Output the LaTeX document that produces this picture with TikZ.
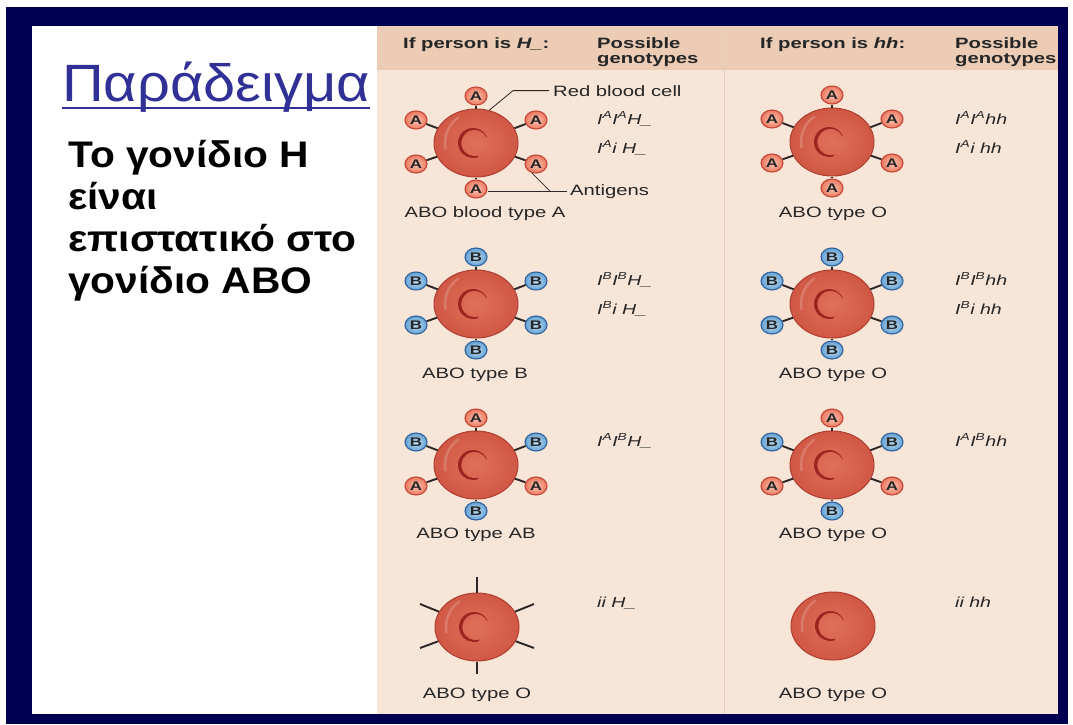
\documentclass[tikz,border=0pt]{standalone}
\usepackage{fontspec}
\setmainfont{Liberation Sans}
\newfontfamily\slidefont{Liberation Sans}[FakeStretch=1.1]
\newfontfamily\figfont{Liberation Sans}[FakeStretch=1.35]
\usetikzlibrary{shapes.geometric,calc}

\definecolor{navy}{RGB}{0,0,82}
\definecolor{peachhead}{RGB}{236,204,180}
\definecolor{peachbody}{RGB}{247,229,216}
\definecolor{divider}{RGB}{232,208,192}
\definecolor{titleblue}{RGB}{48,48,150}
\definecolor{cellin}{RGB}{224,112,90}
\definecolor{cellout}{RGB}{208,88,68}
\definecolor{celledge}{RGB}{176,62,48}
\definecolor{cmarkcol}{RGB}{158,36,32}
\definecolor{agAin}{RGB}{252,198,178}
\definecolor{agAout}{RGB}{236,120,96}
\definecolor{agAedge}{RGB}{196,70,52}
\definecolor{agBin}{RGB}{192,224,244}
\definecolor{agBout}{RGB}{100,160,210}
\definecolor{agBedge}{RGB}{48,98,158}
\definecolor{spokecol}{RGB}{45,38,38}
\definecolor{figtext}{RGB}{38,38,38}

% red blood cell with its sheen and dark central mark
\newcommand{\rbcbody}[2]{%
  \node[rbc] (#1) at (#2) {};
  \draw[sheen] ($(#1.center)+(125:31pt)$) arc[start angle=125,end angle=190,radius=31pt];
  \fill[cmarkcol] ($(#1.center)+(-3pt,0pt)$) ++(25:15pt)
    arc[start angle=25,end angle=288,radius=15pt]
    -- ($(#1.center)+(-1.5pt,0pt)+(288:13.2pt)$)
    arc[start angle=288,end angle=25,radius=13.2pt] -- cycle;}
% one surface antigen joined to its cell
\newcommand{\antigen}[4]{%
  \node[ag#4] (#2) at ($(#1.center)+(#3)$) {#4};
  \draw[spoke] (#1) -- (#2);}
% cell with six antigens: name, centre, top, upper-left, upper-right, lower-left, lower-right, bottom
\newcommand{\fullcell}[8]{%
  \rbcbody{#1}{#2}
  \antigen{#1}{#1t}{0,-47}{#3}
  \antigen{#1}{#1ul}{-60,-23}{#4}
  \antigen{#1}{#1ur}{60,-23}{#5}
  \antigen{#1}{#1ll}{-60,21}{#6}
  \antigen{#1}{#1lr}{60,21}{#7}
  \antigen{#1}{#1b}{0,46}{#8}}

\begin{document}
\begin{tikzpicture}[x=1pt,y=-1pt,
  rbc/.style={ellipse, minimum width=84pt, minimum height=68pt, inner sep=0pt,
    inner color=cellin, outer color=cellout, draw=celledge, line width=1pt},
  sheen/.style={draw=white, draw opacity=0.18, line width=2.5pt, line cap=round},
  antigen/.style={ellipse, minimum width=22pt, minimum height=18pt, inner sep=0pt, line width=1.1pt,
    text=figtext, font=\figfont\bfseries\fontsize{12.5}{12}\selectfont},
  agA/.style={antigen, inner color=agAin, outer color=agAout, draw=agAedge},
  agB/.style={antigen, inner color=agBin, outer color=agBout, draw=agBedge},
  spoke/.style={draw=spokecol, line width=1.9pt},
  callout/.style={draw=spokecol, line width=0.8pt},
  hdr/.style={inner sep=0pt, text=figtext, font=\figfont\bfseries\fontsize{15}{15}\selectfont},
  lbl/.style={inner sep=0pt, text=figtext, font=\figfont\fontsize{15}{15}\selectfont},
  geno/.style={inner sep=0pt, text=figtext, font=\figfont\itshape\fontsize{14.5}{15}\selectfont},
  slide/.style={inner sep=0pt, font=\slidefont\bfseries\fontsize{37}{42}\selectfont}]

\useasboundingbox (0,0) rectangle (1073,724);
\fill[white] (0,0) rectangle (1073,724);
% slide frame
\fill[navy] (6,7) rectangle (1068,724);
\fill[white] (32,26) rectangle (1058,714);
% table background
\fill[peachbody] (377,26) rectangle (1058,714);
\fill[peachhead] (377,26) rectangle (1058,70);
\draw[divider, line width=1pt] (724,26) -- (724,714);

% slide text
\node[inner sep=0pt, anchor=base west, text=titleblue,
  font=\slidefont\fontsize{52.5}{52}\selectfont] (title) at (62,101) {Παράδειγμα};
\draw[titleblue, line width=2pt] ($(title.base west)+(0,7)$) -- ($(title.base east)+(0,7)$);
\node[slide, anchor=base west] (l1) at (68,167) {Το γονίδιο Η};
\node[slide, anchor=base west] (l2) at (68,209) {είναι};
\node[slide, anchor=base west] (l3) at (68,251) {επιστατικό στο};
\node[slide, anchor=base west] (l4) at (68,293) {γονίδιο ΑΒΟ};

% column headers
\node[hdr, anchor=base west] (h1) at (403,48) {If person is \textit{H\_}:};
\node[hdr, anchor=base west] (h2) at (597,48) {Possible};
\node[hdr, anchor=base west] (h2b) at (597,63) {genotypes};
\node[hdr, anchor=base west] (h3) at (760,48) {If person is \textit{hh}:};
\node[hdr, anchor=base west] (h4) at (955,48) {Possible};
\node[hdr, anchor=base west] (h4b) at (955,63) {genotypes};

% row 1
\fullcell{r1a}{476,143}{A}{A}{A}{A}{A}{A}
\fullcell{r1b}{832,142}{A}{A}{A}{A}{A}{A}
% row 2
\fullcell{r2a}{476,304}{B}{B}{B}{B}{B}{B}
\fullcell{r2b}{832,304}{B}{B}{B}{B}{B}{B}
% row 3
\fullcell{r3a}{476,465}{A}{B}{B}{A}{A}{B}
\fullcell{r3b}{832,465}{A}{B}{B}{A}{A}{B}
% row 4: bare stalks, then a bare cell
\rbcbody{r4a}{477,627}
\foreach \n/\off in {t/{0,-50}, ul/{-57,-23}, ur/{57,-23}, ll/{-57,21}, lr/{57,21}, b/{0,47}}{
  \coordinate (r4a\n) at ($(r4a.center)+(\off)$);
  \draw[spoke] (r4a) -- (r4a\n);
}
\rbcbody{r4b}{833,626}

% callouts
\node[lbl, anchor=base west] (rbclabel) at (553,96) {Red blood cell};
\draw[callout] ($(rbclabel.west)+(-4,0)$) -- ++(-36,0) -- (r1a.68);
\node[lbl, anchor=base west] (antlabel) at (570,195) {Antigens};
\coordinate (antjoin) at ($(antlabel.west)+(-20,0)$);
\draw[callout] ($(antlabel.west)+(-3,0)$) -- (antlabel.west -| r1ab.east);
\draw[callout] (antjoin) -- (r1alr.245);

% cell labels
\node[lbl, anchor=base] (c1a) at (485,217) {ABO blood type A};
\node[lbl, anchor=base] (c1b) at (833,217) {ABO type O};
\node[lbl, anchor=base] (c2a) at (475,378) {ABO type B};
\node[lbl, anchor=base] (c2b) at (833,378) {ABO type O};
\node[lbl, anchor=base] (c3a) at (476,538) {ABO type AB};
\node[lbl, anchor=base] (c3b) at (833,538) {ABO type O};
\node[lbl, anchor=base] (c4a) at (477,698) {ABO type O};
\node[lbl, anchor=base] (c4b) at (833,698) {ABO type O};

% genotypes
\node[geno, anchor=base west] (g1a) at (597,124) {I\textsuperscript{A}I\textsuperscript{A}H\_};
\node[geno, anchor=base west] (g1b) at (597,153) {I\textsuperscript{A}i H\_};
\node[geno, anchor=base west] (g2a) at (597,285) {I\textsuperscript{B}I\textsuperscript{B}H\_};
\node[geno, anchor=base west] (g2b) at (597,314) {I\textsuperscript{B}i H\_};
\node[geno, anchor=base west] (g3a) at (597,446) {I\textsuperscript{A}I\textsuperscript{B}H\_};
\node[geno, anchor=base west] (g4a) at (597,607) {ii H\_};
\node[geno, anchor=base west] (k1a) at (955,124) {I\textsuperscript{A}I\textsuperscript{A}hh};
\node[geno, anchor=base west] (k1b) at (955,153) {I\textsuperscript{A}i hh};
\node[geno, anchor=base west] (k2a) at (955,285) {I\textsuperscript{B}I\textsuperscript{B}hh};
\node[geno, anchor=base west] (k2b) at (955,314) {I\textsuperscript{B}i hh};
\node[geno, anchor=base west] (k3a) at (955,446) {I\textsuperscript{A}I\textsuperscript{B}hh};
\node[geno, anchor=base west] (k4a) at (955,607) {ii hh};
\end{tikzpicture}
\end{document}
